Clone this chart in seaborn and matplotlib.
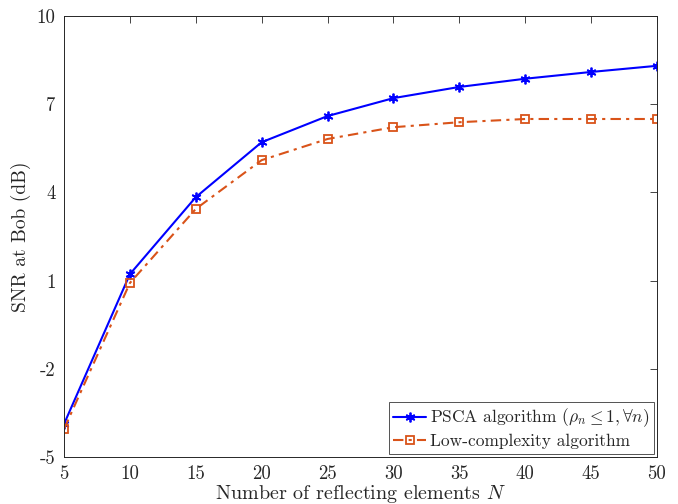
import numpy as np
import pandas as pd
import seaborn as sns
import matplotlib.pyplot as plt

# data
n_elements = [5, 10, 15, 20, 25, 30, 35, 40, 45, 50]
snr_psca = [-3.88, 1.22, 3.84, 5.71, 6.6, 7.21, 7.59, 7.87, 8.1, 8.31]
snr_low = [-4.05, 0.92, 3.44, 5.1, 5.82, 6.22, 6.39, 6.5, 6.5, 6.5]
y_ticks = [-5, -2, 1, 4, 7, 10]
x_ticks = [5, 10, 15, 20, 25, 30, 35, 40, 45, 50]

sns.set_style("white")
plt.rcParams['font.family'] = ['cmr10', 'DejaVu Serif']
plt.rcParams['mathtext.fontset'] = 'cm'
plt.rcParams['axes.unicode_minus'] = False
plt.rcParams['axes.formatter.use_mathtext'] = True

df = pd.DataFrame({"N": n_elements, "psca": snr_psca, "low": snr_low})

fig = plt.figure(figsize=(6.78, 5.04), dpi=100)
ax = fig.add_axes([0.0944, 0.0933, 0.8746, 0.8747])

sns.lineplot(data=df, x="N", y="psca", ax=ax, color="#0000FF", lw=1.5,
             marker=(6, 2, 0), markersize=7, markeredgewidth=1.3,
             markeredgecolor="#0000FF",
             label=r"PSCA algorithm ($\rho_n \leq 1, \forall n$)")
sns.lineplot(data=df, x="N", y="low", ax=ax, color="#D95319", lw=1.5,
             linestyle=(0, (5, 2.5, 1.5, 2.5)), marker="s", markersize=6,
             markeredgewidth=1.3, markerfacecolor="none",
             markeredgecolor="#D95319", label="Low-complexity algorithm")

ax.set_xlim(5, 50)
ax.set_ylim(-5, 10)
ax.set_xticks(x_ticks)
ax.set_yticks(y_ticks)
ax.set_xticklabels([str(t) for t in x_ticks])
ax.set_yticklabels([str(t) for t in y_ticks])
ax.tick_params(direction="in", top=True, right=True, length=5, width=0.6,
               labelsize=13.5, colors="#262626", pad=6)
for sp in ax.spines.values():
    sp.set_color("#262626")
    sp.set_linewidth(0.7)

ax.set_xlabel(r"Number of reflecting elements $N$", fontsize=14.5, color="#262626", labelpad=0)
ax.set_ylabel("SNR at Bob (dB)", fontsize=14, color="#262626", labelpad=4)

leg = ax.legend(loc="lower right", fontsize=12.5, frameon=True, fancybox=False,
                edgecolor="#262626", handlelength=1.9, handletextpad=0.2,
                borderpad=0.25, labelspacing=0.25, borderaxespad=0.2)
leg.get_frame().set_linewidth(0.7)

fig.savefig("out.png", dpi=100)
